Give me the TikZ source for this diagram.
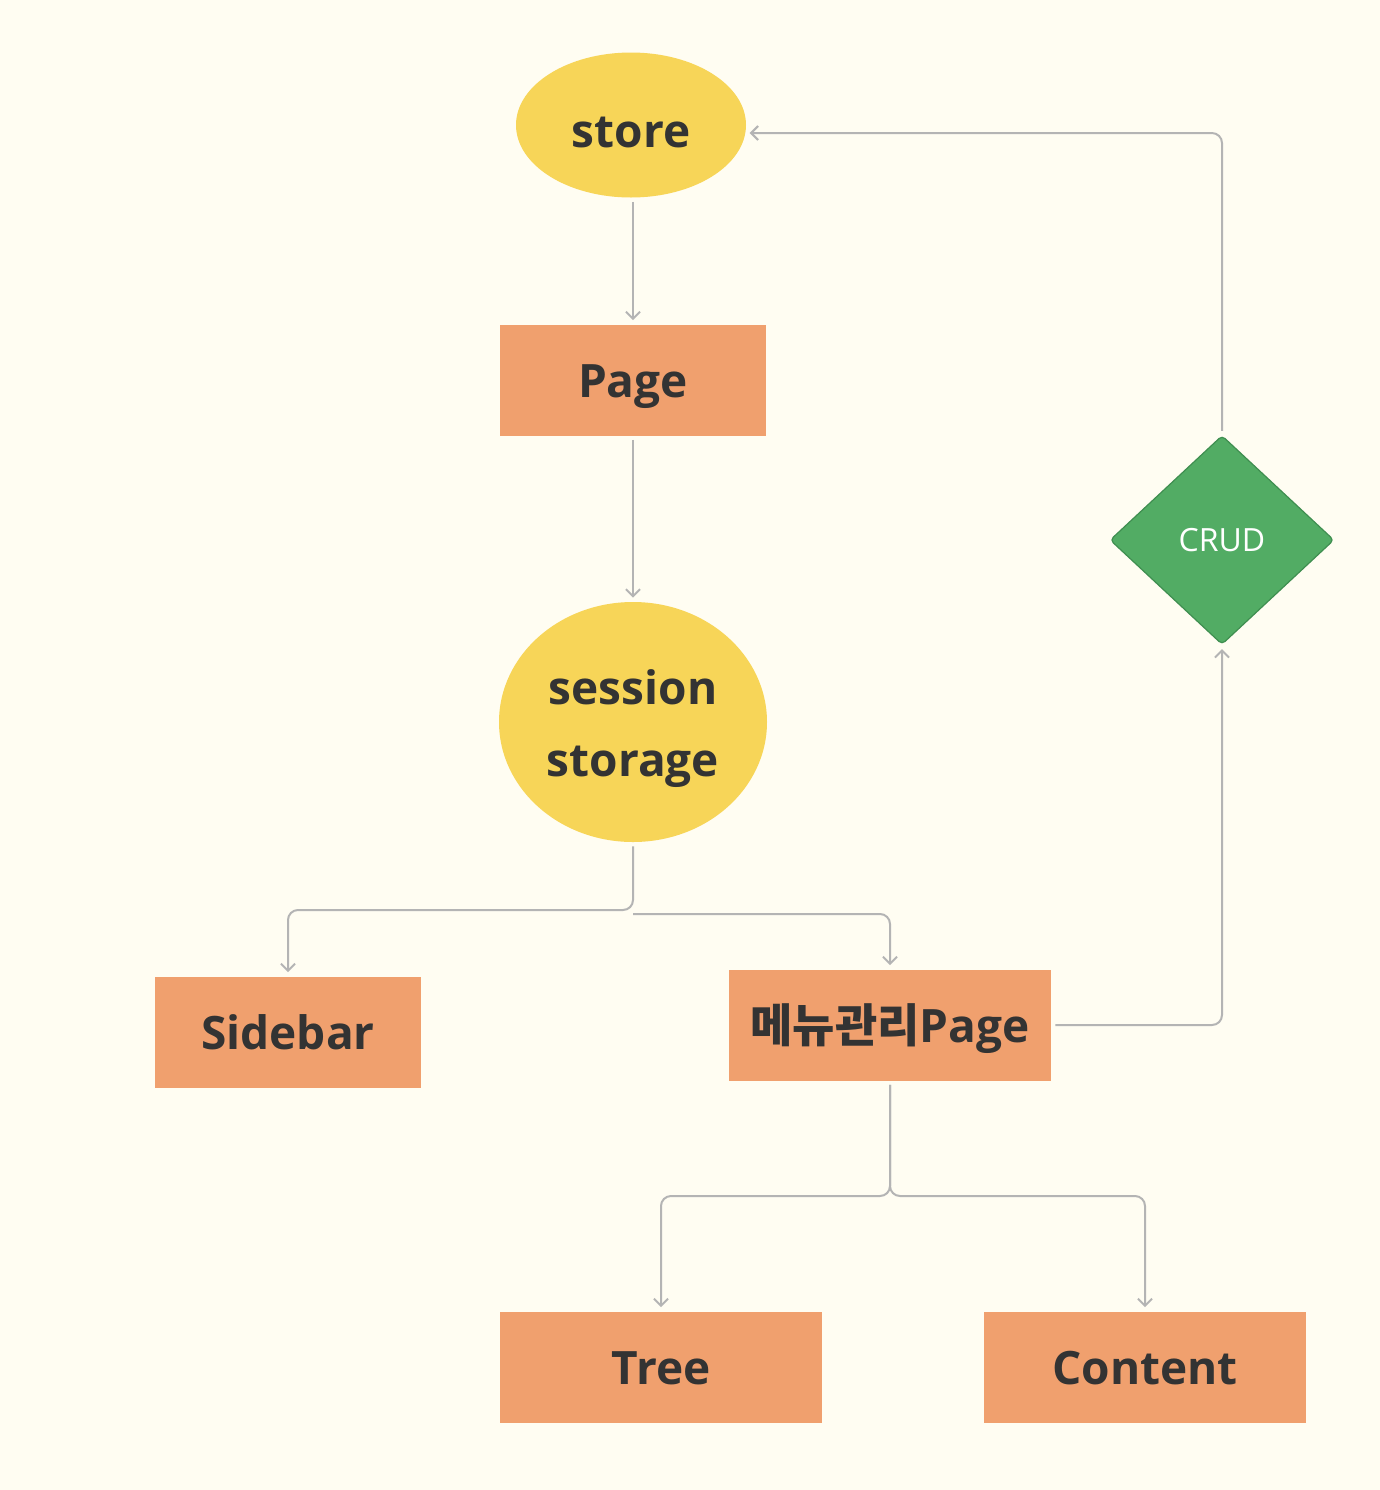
\documentclass[tikz,border=0pt]{standalone}
\usepackage{fontspec}
\setmainfont{Open Sans}
\newfontfamily\kofont{Noto Sans CJK KR}
\usetikzlibrary{positioning,arrows.meta,shapes.geometric}

\definecolor{bgcol}{HTML}{FFFDF2}
\definecolor{yellowfill}{HTML}{F7D558}
\definecolor{orangefill}{HTML}{F0A06E}
\definecolor{greenfill}{HTML}{52AC64}
\definecolor{greenline}{HTML}{3F8E50}
\definecolor{linecol}{HTML}{B4B4B4}
\definecolor{textcol}{HTML}{333333}

\begin{document}
\begin{tikzpicture}[x=0.5pt, y=-0.5pt,
    box/.style={rectangle, fill=orangefill, minimum width=133pt, minimum height=55.5pt, inner sep=0pt, text height=17.5pt, text depth=0pt, text=textcol, font=\fontsize{23}{28}\selectfont\bfseries},
    blob/.style={ellipse, fill=yellowfill, inner sep=0pt, text=textcol, font=\fontsize{23}{36}\selectfont\bfseries},
    conn/.style={draw=linecol, line width=1pt, rounded corners=5pt, shorten <=2pt, shorten >=2pt},
    tip/.style={conn, -{Straight Barb[length=3.5pt, width=7pt]}}]
    \fill[bgcol] (0,0) rectangle (1380,1490);
    \useasboundingbox (0,0) rectangle (1380,1490);

    \node[blob, minimum width=115pt, minimum height=72.5pt, text height=22pt, text depth=0pt] (store) at (631,125) {store};
    \node[box] (page) at (633,380) {Page};
    \node[blob, minimum width=134pt, minimum height=120pt] (sess) at (633,722)
        {\raisebox{-2pt}[\height][\depth]{\begin{tabular}{@{}c@{}}session\\storage\end{tabular}}};

    \node[box] (side) at (288,1032) {Sidebar};
    \node[box, minimum width=161pt] (menu) at (890,1025) {{\kofont\bfseries 메뉴관리}Page};
    \node[box, minimum width=161pt] (tree) at (661,1367) {Tree};
    \node[box, minimum width=161pt] (content) at (1145,1367) {Content};

    \node[diamond, fill=greenfill, draw=greenline, line width=0.6pt, rounded corners=2pt, minimum width=112pt, minimum height=104.5pt, inner sep=0pt, text=white, font=\fontsize{16}{18}\selectfont] (crud) at (1222,540) {CRUD};

    \coordinate (jA) at (633,910);
    \coordinate (jB) at (633,914);
    \coordinate (jC) at (890,1196);

    \draw[tip] (store.south -| page.north) -- (page.north);
    \draw[tip] (page.south) -- (sess.north);
    \draw[tip] (sess.south) -- (jA) -| (side.north);
    \draw[tip, shorten <=0pt] (jB) -| (menu.north);
    \draw[tip] (menu.south) -- (jC) -| (tree.north);
    \draw[tip] (menu.south) -- (jC) -| (content.north);
    \draw[tip] (menu.east) -| (crud.south);
    \draw[tip] (crud.north) |- (store.-4);
\end{tikzpicture}
\end{document}
